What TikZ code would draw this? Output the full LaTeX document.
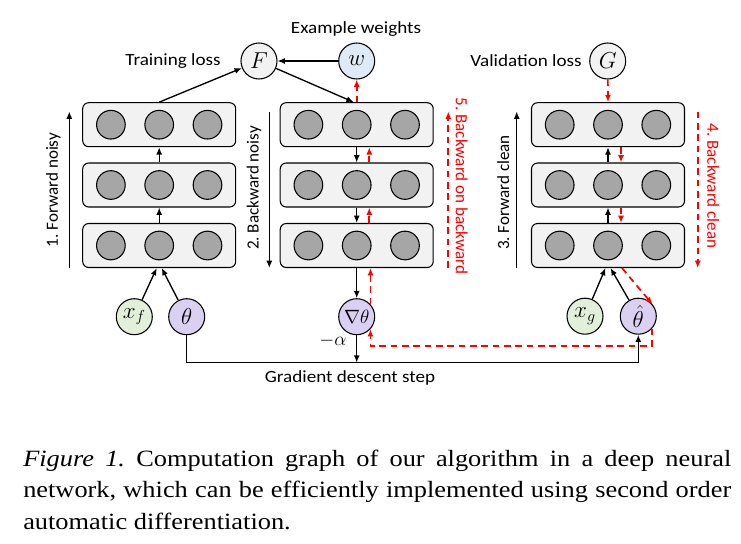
\documentclass[tikz,border=0pt]{standalone}
\usepackage{fontspec}
\setmainfont{Carlito}
\newfontfamily\lblfont[FakeStretch=1.12]{Carlito}
\newfontfamily\capfont[FakeStretch=1.13]{Liberation Serif}
\usetikzlibrary{arrows.meta,calc}
\definecolor{boxfill}{RGB}{242,242,242}
\definecolor{neurongray}{RGB}{166,166,166}
\definecolor{wblue}{RGB}{222,235,247}
\definecolor{xgreen}{RGB}{226,240,217}
\definecolor{thlav}{RGB}{217,208,242}
\hyphenpenalty=10000
\frenchspacing
\begin{document}
\begin{tikzpicture}[x=0.75pt,y=-0.75pt,
  layer/.style={draw, rounded corners=4.5pt, fill=boxfill, minimum width=114.75pt, minimum height=33pt, line width=0.8pt, inner sep=0},
  neuron/.style={circle, draw, fill=neurongray, minimum size=21.5pt, inner sep=0, line width=0.8pt},
  var/.style={circle, draw, minimum size=27pt, inner sep=0, line width=0.8pt, font=\fontsize{17}{17}\selectfont},
  arr/.style={-{Latex[length=5.5pt,width=4.5pt]}, line width=1pt},
  rarr/.style={arr, red, line width=1.3pt, dash pattern=on 5pt off 3.5pt},
  lbl/.style={font=\lblfont\fontsize{12.8}{14}\selectfont, inner sep=0},
  vlbl/.style={font=\fontsize{12.8}{14}\selectfont, inner sep=0}]
\useasboundingbox (0,0) rectangle (741,543);

\foreach \c/\x in {L/159.2, M/356.7, R/608}{
  \foreach \r/\y in {1/124.7, 2/185, 3/245.5}{
    \node[layer] (\c\r) at (\x,\y) {};
    \node[neuron] (\c\r-1) at ({\x-48.3},\y) {};
    \node[neuron] (\c\r-2) at (\x,\y) {};
    \node[neuron] (\c\r-3) at ({\x+48.3},\y) {};
  }
}

% variables
\node[var, fill=boxfill] (F) at (259,61) {$F$};
\node[var, fill=wblue] (w) at (356.7,61) {$w$};
\node[var, fill=boxfill] (G) at (607.7,61) {$G$};
\node[var, fill=xgreen] (xf) at (134.3,316.7) {$x_f$};
\node[var, fill=thlav] (th) at (186.7,316.7) {$\theta$};
\node[var, fill=thlav, font=\fontsize{15}{15}\selectfont] (gt) at (356.7,316.7) {$\nabla\theta$};
\node[var, fill=xgreen] (xg) at (585,316.2) {$x_g$};
\node[var, fill=thlav] (th2) at (638.3,316.2) {$\hat\theta$};

% labels
\node[lbl] (lt) at (173,61) {Training loss};
\node[lbl] (lw) at (356,29) {Example weights};
\node[lbl] (lv) at (526,61) {Validation loss};
\node[inner sep=0, font=\fontsize{15}{15}\selectfont] (la) at (333,341) {$-\alpha$};
\node[lbl] (lg) at (350,378) {Gradient descent step};
\node[vlbl, rotate=90] (l1) at (53.3,190) {1. Forward noisy};
\node[vlbl, rotate=90] (l2) at (254,188) {2. Backward noisy};
\node[vlbl, rotate=90] (l3) at (503.3,192.5) {3. Forward clean};
\node[vlbl, rotate=-90, text=red] (l4) at (713.3,186) {4. Backward clean};
\node[vlbl, rotate=-90, text=red] (l5) at (461.7,186) {5. Backward on backward};

% side arrows
\coordinate (a1b) at (69.3,268); \coordinate (a1t) at (69.3,111.5);
\coordinate (a2t) at (269.3,111.5); \coordinate (a2b) at (269.3,268);
\coordinate (a3b) at (516.7,268); \coordinate (a3t) at (516.7,111.5);
\coordinate (a4t) at (697.7,111.5); \coordinate (a4b) at (697.7,268);
\coordinate (a5b) at (448.3,268); \coordinate (a5t) at (448.3,111.5);
\draw[arr] (a1b) -- (a1t);
\draw[arr] (a2t) -- (a2b);
\draw[arr] (a3b) -- (a3t);
\draw[rarr] (a4t) -- (a4b);
\draw[rarr] (a5b) -- (a5t);

% top connections
\draw[arr] (L1.north) -- (F);
\draw[arr] (w) -- (F);
\draw[arr] (F) -- ($(M1.north)+(-3,0)$);
\draw[rarr] (M1.north) -- (w);
\draw[rarr] (G) -- (R1.north);

% between layers
\draw[arr] (L3.north) -- (L2.south);
\draw[arr] (L2.north) -- (L1.south);
\draw[arr] (M1.south) -- (M2.north);
\draw[arr] (M2.south) -- (M3.north);
\draw[rarr] ($(M2.north)+(12.6,0)$) -- ($(M1.south)+(12.6,0)$);
\draw[rarr] ($(M3.north)+(12.6,0)$) -- ($(M2.south)+(12.6,0)$);
\draw[arr] (R3.north) -- (R2.south);
\draw[arr] (R2.north) -- (R1.south);
\draw[rarr] ($(R1.south)+(13,0)$) -- ($(R2.north)+(13,0)$);
\draw[rarr] ($(R2.south)+(13,0)$) -- ($(R3.north)+(13,0)$);

% bottom
\draw[arr] (xf) -- ($(L3.south)+(-2.5,0)$);
\draw[arr] (th) -- ($(L3.south)+(2.5,0)$);
\draw[arr] (xg) -- ($(R3.south)+(-2.5,0)$);
\draw[arr] (th2) -- ($(R3.south)+(2.5,0)$);
\draw[arr] (M3.south) -- (gt);
\draw[rarr] (gt.42) -- (gt.42 |- M3.south);
\draw[rarr] ($(R3.south)+(14,0)$) -- (th2.40);
\coordinate (rc) at (0,346);
\draw[rarr] (th2.-42) -- (th2.-42 |- rc) -- (gt.-42 |- rc) -- (gt.-42);
\coordinate (gd) at (0,362.7);
\draw[arr] (th.south) -- (th.south |- gd) -- (th2.south |- gd) -- (th2.south);
\draw[arr] (gt.south) -- (gt.south |- gd);

% caption
\node[anchor=north west, text width=531pt, inner sep=0, align=justify, font=\capfont\fontsize{17.5}{23.4}\selectfont] (cap) at (23,450)
  {\textit{Figure 1.} Computation graph of our algorithm in a deep neural network, which can be efficiently implemented using second order automatic differentiation.};
\end{tikzpicture}
\end{document}
